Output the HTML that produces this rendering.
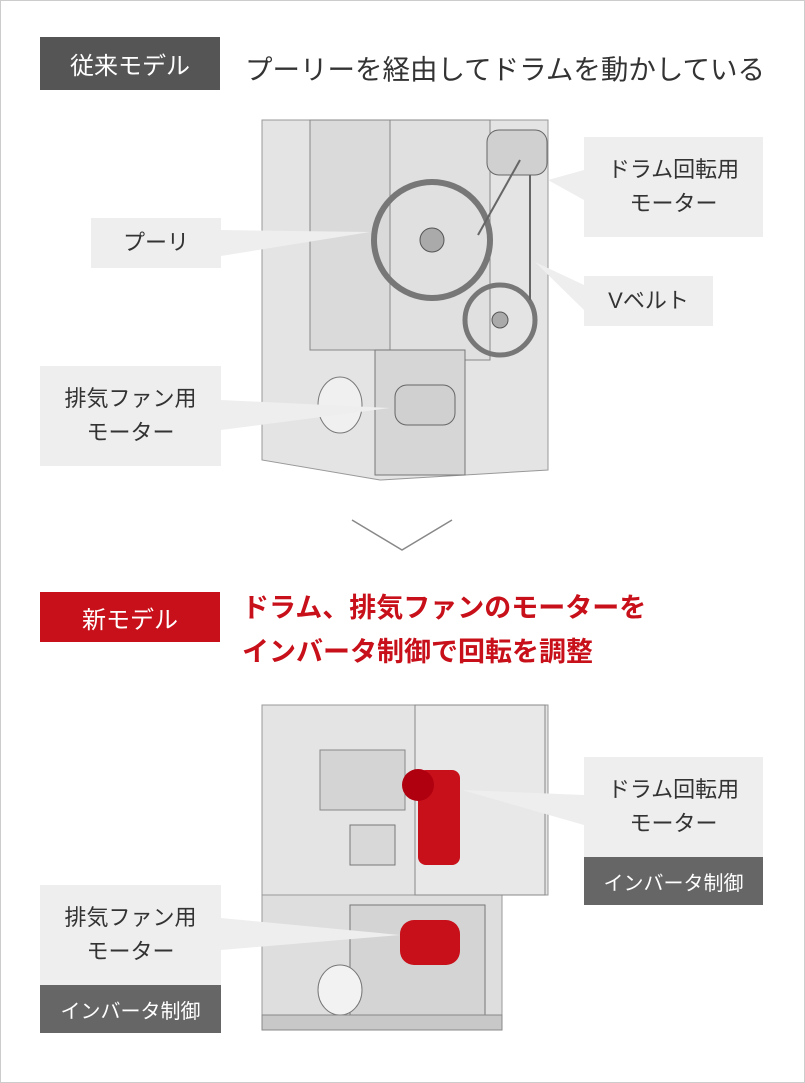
<!DOCTYPE html>
<html><head><meta charset="utf-8"><style>
body{margin:0;width:805px;height:1083px;background:#fff;position:relative;overflow:hidden;font-family:"Liberation Sans","Noto Sans CJK JP",sans-serif;}
.frame{position:absolute;left:0;top:0;width:803px;height:1081px;border:1px solid #ccc;}
.a{position:absolute;}
.hd{position:absolute;color:#fff;font-size:24px;display:flex;align-items:center;justify-content:center;}
.lb{position:absolute;background:#eeeeee;color:#333;font-size:22px;line-height:34px;display:flex;align-items:center;justify-content:center;text-align:center;}
.inv{position:absolute;background:#666;color:#fff;font-size:20px;display:flex;align-items:center;justify-content:center;}
</style></head><body>
<div class="frame"></div>
<div class="hd" style="left:40px;top:37px;width:180px;height:53px;background:#555;">従来モデル</div>
<div class="a" style="left:245px;top:47px;font-size:27.5px;color:#333;">プーリーを経由してドラムを動かしている</div>

<svg class="a" style="left:0;top:0" width="805" height="1083">
 <polygon points="262,120 548,120 548,470 380,480 262,460" fill="#e4e4e4" stroke="#999"/>
 <rect x="310" y="120" width="80" height="230" fill="#dadada" stroke="#888"/>
 <rect x="390" y="120" width="100" height="240" fill="#e0e0e0" stroke="#888"/>
 <rect x="375" y="350" width="90" height="125" fill="#d6d6d6" stroke="#777"/>
 <circle cx="432" cy="240" r="58" fill="none" stroke="#777" stroke-width="6"/>
 <circle cx="432" cy="240" r="12" fill="#aaa" stroke="#555"/>
 <circle cx="500" cy="320" r="35" fill="none" stroke="#777" stroke-width="5"/>
 <circle cx="500" cy="320" r="8" fill="#aaa" stroke="#555"/>
 <rect x="487" y="130" width="60" height="45" rx="12" fill="#d0d0d0" stroke="#666"/>
 <rect x="395" y="385" width="60" height="40" rx="12" fill="#d0d0d0" stroke="#666"/>
 <ellipse cx="340" cy="405" rx="22" ry="28" fill="#f0f0f0" stroke="#777"/>
 <line x1="520" y1="160" x2="478" y2="235" stroke="#666" stroke-width="2"/>
 <line x1="530" y1="175" x2="530" y2="300" stroke="#666" stroke-width="2"/>
 <polygon points="584,170 584,200 548,180" fill="#eeeeee"/>
 <polygon points="221,230 221,256 370,232" fill="#eeeeee"/>
 <polygon points="584,285 584,310 535,262" fill="#eeeeee"/>
 <polygon points="221,400 221,430 390,408" fill="#eeeeee"/>
 <polyline points="352,520 402,550 452,520" fill="none" stroke="#888" stroke-width="1.5"/>
 <rect x="262" y="705" width="286" height="190" fill="#e4e4e4" stroke="#999"/>
 <rect x="262" y="895" width="240" height="135" fill="#dedede" stroke="#999"/>
 <rect x="415" y="705" width="130" height="190" fill="#e8e8e8" stroke="#888"/>
 <rect x="320" y="750" width="85" height="60" fill="#d4d4d4" stroke="#888"/>
 <rect x="350" y="825" width="45" height="40" fill="#d8d8d8" stroke="#777"/>
 <rect x="350" y="905" width="135" height="110" fill="#d4d4d4" stroke="#777"/>
 <ellipse cx="340" cy="990" rx="22" ry="25" fill="#f2f2f2" stroke="#777"/>
 <rect x="262" y="1015" width="240" height="15" fill="#c8c8c8" stroke="#888"/>
 <rect x="418" y="770" width="42" height="95" rx="8" fill="#c8101a"/>
 <circle cx="418" cy="785" r="16" fill="#b00010"/>
 <rect x="400" y="920" width="60" height="45" rx="14" fill="#c8101a"/>
 <polygon points="584,795 584,825 462,790" fill="#eeeeee"/>
 <polygon points="221,918 221,950 400,935" fill="#eeeeee"/>
</svg>

<div class="lb" style="left:584px;top:137px;width:179px;height:100px;">ドラム回転用<br>モーター</div>
<div class="lb" style="left:91px;top:218px;width:130px;height:50px;">プーリ</div>
<div class="lb" style="left:584px;top:276px;width:129px;height:50px;">Vベルト</div>
<div class="lb" style="left:40px;top:366px;width:181px;height:100px;">排気ファン用<br>モーター</div>

<div class="hd" style="left:40px;top:592px;width:180px;height:50px;background:#c8101a;">新モデル</div>
<div class="a" style="left:242px;top:586px;font-size:27px;line-height:44px;color:#c8101a;font-weight:bold;">ドラム、排気ファンのモーターを<br>インバータ制御で回転を調整</div>

<div class="lb" style="left:584px;top:757px;width:179px;height:100px;">ドラム回転用<br>モーター</div>
<div class="inv" style="left:584px;top:857px;width:179px;height:48px;">インバータ制御</div>
<div class="lb" style="left:40px;top:885px;width:181px;height:100px;">排気ファン用<br>モーター</div>
<div class="inv" style="left:40px;top:985px;width:181px;height:48px;">インバータ制御</div>
</body></html>
